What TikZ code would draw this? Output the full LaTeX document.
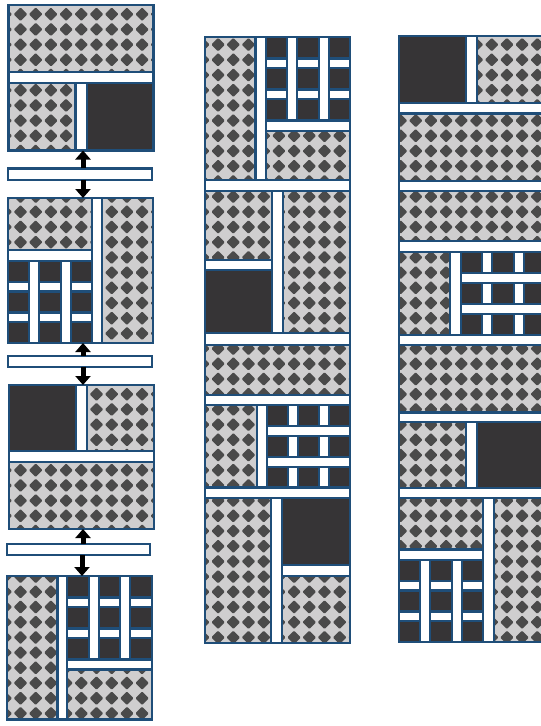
\documentclass[tikz,border=0pt]{standalone}
\usetikzlibrary{arrows.meta}
\definecolor{navy}{HTML}{1F4E79}
\definecolor{patlight}{HTML}{CFCECF}
\definecolor{patdark}{HTML}{4A4A4A}
\definecolor{darkfill}{HTML}{363436}
\newcommand\patstep{15.2}
\newcommand\patox{5.3}
\newcommand\patoy{-1}
\newcommand\patr{6.8}
\tikzset{
  cellline/.style={draw=navy,line width=2.3pt},
  darkcell/.style={cellline,fill=darkfill},
  gapcell/.style={cellline,fill=white},
  barbox/.style={draw=navy,line width=2.3pt,fill=white,inner sep=0pt,outer sep=0pt},
  bigarrow/.style={line width=5pt,-{Triangle[width=15pt,length=9pt]}},
}
\newcommand\patrect[4]{%
  \begin{scope}
    \clip (#1,#2) rectangle (#3,#4);
    \fill[patlight] (#1,#2) rectangle (#3,#4);
    \pgfmathtruncatemacro\pia{floor(#1/\patstep)-1}%
    \pgfmathtruncatemacro\pib{ceil(#3/\patstep)+1}%
    \pgfmathtruncatemacro\pja{floor(#2/\patstep)-1}%
    \pgfmathtruncatemacro\pjb{ceil(#4/\patstep)+1}%
    \foreach \ii in {\pia,...,\pib}{%
      \foreach \jj in {\pja,...,\pjb}{%
        \fill[patdark,rounded corners=1pt,shift={({\ii*\patstep+\patox},{\jj*\patstep+\patoy})}]
          (-\patr,0) -- (0,-\patr) -- (\patr,0) -- (0,\patr) -- cycle;
      }}
  \end{scope}
  \draw[cellline] (#1,#2) rectangle (#3,#4);
}
\newcommand\darkrect[4]{\draw[darkcell] (#1,#2) rectangle (#3,#4);}
\newcommand\gaprect[4]{\draw[gapcell] (#1,#2) rectangle (#3,#4);}
\newcommand\vgridrect[4]{%
  \pgfmathsetmacro\gcw{(#3-#1-20)/3}%
  \pgfmathsetmacro\grh{(#4-#2-19)/3}%
  \foreach \cc in {0,1,2}{%
    \pgfmathsetmacro\cxa{#1+\cc*(\gcw+10)}%
    \pgfmathsetmacro\cxb{\cxa+\gcw}%
    \darkrect{\cxa}{#2}{\cxb}{#4}%
    \foreach \rr in {1,2}{%
      \pgfmathsetmacro\rya{#2+\rr*\grh+(\rr-1)*9.5}%
      \pgfmathsetmacro\ryb{\rya+9.5}%
      \gaprect{\cxa}{\rya}{\cxb}{\ryb}%
    }%
  }%
  \foreach \ss in {1,2}{%
    \pgfmathsetmacro\sxa{#1+\ss*\gcw+(\ss-1)*10}%
    \pgfmathsetmacro\sxb{\sxa+10}%
    \gaprect{\sxa}{#2}{\sxb}{#4}%
  }%
}
\newcommand\hgridrect[4]{%
  \pgfmathsetmacro\gcw{(#3-#1-20)/3}%
  \pgfmathsetmacro\grh{(#4-#2-20)/3}%
  \foreach \rr in {0,1,2}{%
    \pgfmathsetmacro\rya{#2+\rr*(\grh+10)}%
    \pgfmathsetmacro\ryb{\rya+\grh}%
    \darkrect{#1}{\rya}{#3}{\ryb}%
    \foreach \cc in {1,2}{%
      \pgfmathsetmacro\cxa{#1+\cc*\gcw+(\cc-1)*10}%
      \pgfmathsetmacro\cxb{\cxa+10}%
      \gaprect{\cxa}{\rya}{\cxb}{\ryb}%
    }%
  }%
  \foreach \ss in {1,2}{%
    \pgfmathsetmacro\sya{#2+\ss*\grh+(\ss-1)*10}%
    \pgfmathsetmacro\syb{\sya+10}%
    \gaprect{#1}{\sya}{#3}{\syb}%
  }%
}
\begin{document}
\begin{tikzpicture}[x=1pt,y=-1pt]
\useasboundingbox (0,0) rectangle (541,726);
\clip (0,0) rectangle (541,726);

% ---------- left column: tile 1 ----------
\patrect{8.5}{5}{153.5}{72}
\gaprect{8.5}{72}{153.5}{83}
\patrect{8.5}{83}{75.5}{150.5}
\gaprect{75.5}{83}{87}{150.5}
\darkrect{87}{83}{153.5}{150.5}
\coordinate (t1bot) at (83,150.5);

% ---------- tile 2 ----------
\patrect{8}{198}{92}{250}
\gaprect{8}{250}{92}{261}
\vgridrect{8}{261}{92}{343}
\gaprect{92}{198}{102}{343}
\patrect{102}{198}{153}{343}
\coordinate (t2top) at (83,198);
\coordinate (t2bot) at (83,343);

% ---------- tile 3 ----------
\darkrect{9}{385}{76}{451}
\gaprect{76}{385}{87}{451}
\patrect{87}{385}{154}{451}
\gaprect{9}{451}{154}{462}
\patrect{9}{462}{154}{529}
\coordinate (t3top) at (83,385);
\coordinate (t3bot) at (83,529);

% ---------- tile 4 ----------
\patrect{7}{576}{57.5}{719.5}
\gaprect{57.5}{576}{67}{719.5}
\vgridrect{67}{576}{152}{659.5}
\gaprect{67}{659.5}{152}{669.5}
\patrect{67}{669.5}{152}{719.5}
\coordinate (t4top) at (82,576);

% ---------- bars ----------
\node[barbox,minimum width=144pt,minimum height=11.5pt] (bar1) at (80.2,174.2) {};
\node[barbox,minimum width=143.4pt,minimum height=11pt] (bar2) at (80,361.2) {};
\node[barbox,minimum width=143.3pt,minimum height=11pt] (bar3) at (78.3,549.5) {};

% ---------- arrows ----------
\draw[bigarrow] (bar1.north -| t1bot) -- (t1bot);
\draw[bigarrow] (bar1.south -| t2top) -- (t2top);
\draw[bigarrow] (bar2.north -| t2bot) -- (t2bot);
\draw[bigarrow] (bar2.south -| t3top) -- (t3top);
\draw[bigarrow] (bar3.north -| t3bot) -- (t3bot);
\draw[bigarrow] (bar3.south -| t4top) -- (t4top);

% ---------- middle column ----------
\patrect{205}{37}{255.5}{180}
\gaprect{255.5}{37}{266}{180}
\vgridrect{266}{37}{350}{120.5}
\gaprect{266}{120.5}{350}{131}
\patrect{266}{131}{350}{180}
\gaprect{205}{180}{350}{191}
\patrect{205}{191}{272}{260}
\gaprect{205}{260}{272}{270}
\darkrect{205}{270}{272}{333}
\gaprect{272}{191}{283}{333}
\patrect{283}{191}{350}{333}
\gaprect{205}{333}{350}{345}
\patrect{205}{345}{350}{395}
\gaprect{205}{395}{350}{405}
\patrect{205}{405}{257}{487.5}
\gaprect{257}{405}{267}{487.5}
\hgridrect{267}{405}{350}{487.5}
\gaprect{205}{487.5}{350}{498}
\patrect{205}{498}{271}{643}
\gaprect{271}{498}{282}{643}
\darkrect{282}{498}{350}{565}
\gaprect{282}{565}{350}{576}
\patrect{282}{576}{350}{643}

% ---------- right column ----------
\darkrect{399}{36}{466}{103}
\gaprect{466}{36}{477}{103}
\patrect{477}{36}{545}{103}
\gaprect{399}{103}{545}{113.5}
\patrect{399}{113.5}{545}{181}
\gaprect{399}{181}{545}{191}
\patrect{399}{191}{545}{241}
\gaprect{399}{241}{545}{252}
\patrect{399}{252}{450}{335}
\gaprect{450}{252}{461}{335}
\hgridrect{461}{252}{545}{335}
\gaprect{399}{335}{545}{345}
\patrect{399}{345}{545}{412.5}
\gaprect{399}{412.5}{545}{422}
\patrect{399}{422}{466}{488}
\gaprect{466}{422}{477}{488}
\darkrect{477}{422}{545}{488}
\gaprect{399}{488}{545}{498}
\patrect{399}{498}{483}{549.5}
\gaprect{399}{549.5}{483}{560}
\vgridrect{399}{560}{483}{642}
\gaprect{483}{498}{494}{642}
\patrect{494}{498}{545}{642}
\end{tikzpicture}
\end{document}
